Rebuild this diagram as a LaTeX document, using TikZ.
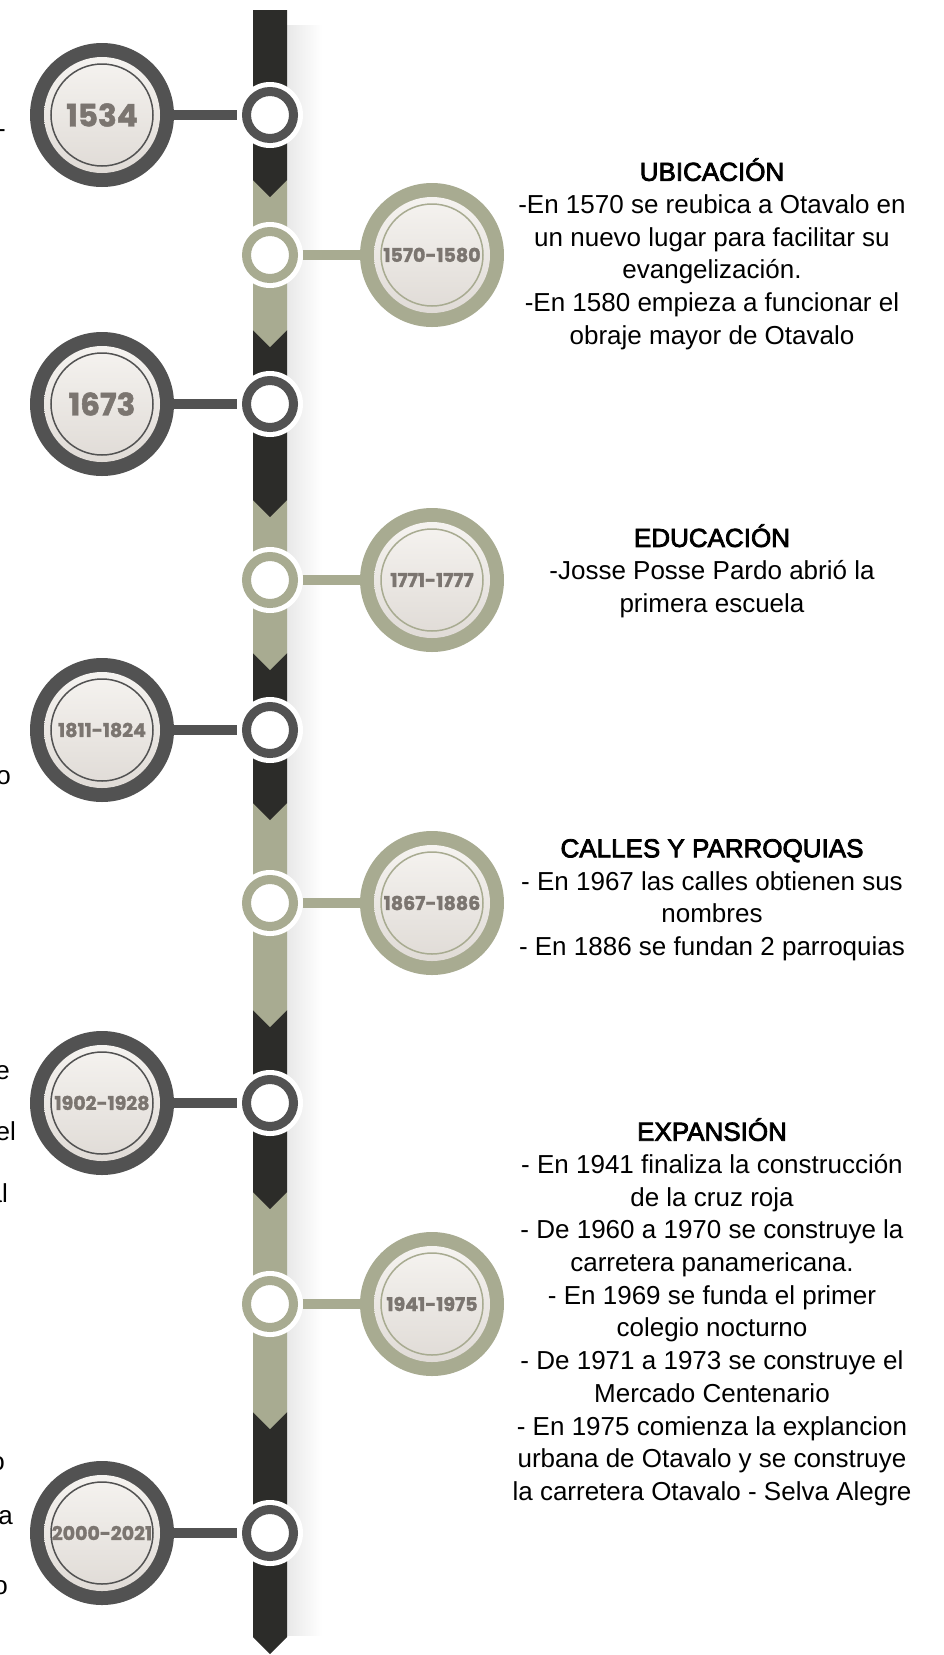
\documentclass[tikz,border=0pt]{standalone}
\usepackage{fontspec}
\setmainfont{Liberation Sans}
\newfontfamily\headfont[FakeBold=3]{Liberation Sans}
\newfontfamily\yearfont[FakeBold=1.5]{Poppins}
\usetikzlibrary{calc}
\usetikzlibrary{positioning}

\definecolor{spinedark}{RGB}{44,44,41}
\definecolor{sage}{RGB}{168,171,145}
\definecolor{ringdark}{RGB}{82,82,82}
\definecolor{yeargray}{RGB}{123,117,112}
\definecolor{disctop}{RGB}{248,246,243}
\definecolor{discbot}{RGB}{221,216,211}

\begin{document}
\begin{tikzpicture}[x=1pt,y=-1pt,
    yearcircle/.style={circle, fill=#1, minimum size=144pt, inner sep=0pt,
        text=yeargray, font=\yearfont\bfseries\fontsize{19}{19}\selectfont,
        path picture={
            \shade[top color=disctop, bottom color=discbot]
                (path picture bounding box.center) circle (58pt);
            \draw[#1, line width=1.5pt]
                (path picture bounding box.center) circle (51pt);
        }},
    bigyear/.style={font=\yearfont\bfseries\fontsize{31}{31}\selectfont},
    spinedot/.style={circle, fill=white, minimum size=66pt, inner sep=0pt,
        path picture={
            \draw[#1, line width=9pt]
                (path picture bounding box.center) circle (23.5pt);
        }},
    bar/.style={#1, line width=10pt},
    info/.style={align=center, inner sep=0pt,
        font=\fontsize{26}{32.7}\selectfont},
    frag/.style={anchor=base east, inner sep=0pt,
        font=\fontsize{26}{32.7}\selectfont}
]
    \useasboundingbox (0,0) rectangle (943,1655);

    % soft shadow right of the spine
    \shade[left color=black!9, right color=white] (287,25) rectangle (322,1635);

    % Spine segments, bottom first so each chevron lies on the next one
    \foreach \ya/\yb/\c in {1412/1637/spinedark, 1192/1412/sage,
            1010/1192/spinedark, 803/1010/sage, 653/803/spinedark,
            500/653/sage, 330/500/spinedark, 180/330/sage, 10/180/spinedark}
        \fill[\c] (253,\ya) -- (287,\ya) -- (287,\yb) -- (270,\yb+17)
            -- (253,\yb) -- cycle;

    % Spine dots
    \node[spinedot=ringdark] (s1) at (270,115)  {};
    \node[spinedot=sage]     (s2) at (270,255)  {};
    \node[spinedot=ringdark] (s3) at (270,404)  {};
    \node[spinedot=sage]     (s4) at (270,580)  {};
    \node[spinedot=ringdark] (s5) at (270,730)  {};
    \node[spinedot=sage]     (s6) at (270,903)  {};
    \node[spinedot=ringdark] (s7) at (270,1103) {};
    \node[spinedot=sage]     (s8) at (270,1304) {};
    \node[spinedot=ringdark] (s9) at (270,1533) {};

    % Year circles
    \node[yearcircle=ringdark, bigyear] (c1534) at (102,115)  {1534};
    \node[yearcircle=sage]              (c1570) at (432,255)  {1570-1580};
    \node[yearcircle=ringdark, bigyear] (c1673) at (102,404)  {1673};
    \node[yearcircle=sage]              (c1771) at (432,580)  {1771-1777};
    \node[yearcircle=ringdark]          (c1811) at (102,730)  {1811-1824};
    \node[yearcircle=sage]              (c1867) at (432,903)  {1867-1886};
    \node[yearcircle=ringdark]          (c1902) at (102,1103) {1902-1928};
    \node[yearcircle=sage]              (c1941) at (432,1304) {1941-1975};
    \node[yearcircle=ringdark]          (c2000) at (102,1533) {2000-2021};

    % Lines
    \draw[bar=ringdark] (c1534) -- (s1);
    \draw[bar=sage]     (s2) -- (c1570);
    \draw[bar=ringdark] (c1673) -- (s3);
    \draw[bar=sage]     (s4) -- (c1771);
    \draw[bar=ringdark] (c1811) -- (s5);
    \draw[bar=sage]     (s6) -- (c1867);
    \draw[bar=ringdark] (c1902) -- (s7);
    \draw[bar=sage]     (s8) -- (c1941);
    \draw[bar=ringdark] (c2000) -- (s9);

    % Texts on the right
    \node[info] (t1570) at (712,254) {{\headfont UBICACIÓN}\\
        -En 1570 se reubica a Otavalo en\\
        un nuevo lugar para facilitar su\\
        evangelización.\\
        -En 1580 empieza a funcionar el\\
        obraje mayor de Otavalo};
    \node[info] (t1771) at (712,571) {{\headfont EDUCACIÓN}\\
        -Josse Posse Pardo abrió la\\
        primera escuela};
    \node[info] (t1867) at (712,900) {{\headfont CALLES Y PARROQUIAS}\\
        - En 1967 las calles obtienen sus\\
        nombres\\
        - En 1886 se fundan 2 parroquias};
    \node[info] (t1941) at (712,1312) {{\headfont EXPANSIÓN}\\
        - En 1941 finaliza la construcción\\
        de la cruz roja\\
        - De 1960 a 1970 se construye la\\
        carretera panamericana.\\
        - En 1969 se funda el primer\\
        colegio nocturno\\
        - De 1971 a 1973 se construye el\\
        Mercado Centenario\\
        - En 1975 comienza la explancion\\
        urbana de Otavalo y se construye\\
        la carretera Otavalo - Selva Alegre};

    % ends of the texts on the left, cut by the border
    \node[frag] (f1) at (6,137)   {-};
    \node[frag] (f2) at (11,784)  {o};
    \node[frag] (f3) at (10,1079) {e};
    \node[frag] (f4) at (16,1140) {el};
    \node[frag] (f5) at (8,1202)  {al};
    \node[frag] (f6) at (5,1470)  {o};
    \node[frag] (f7) at (13,1524) {a};
    \node[frag] (f8) at (8,1594)  {o};
\end{tikzpicture}
\end{document}
